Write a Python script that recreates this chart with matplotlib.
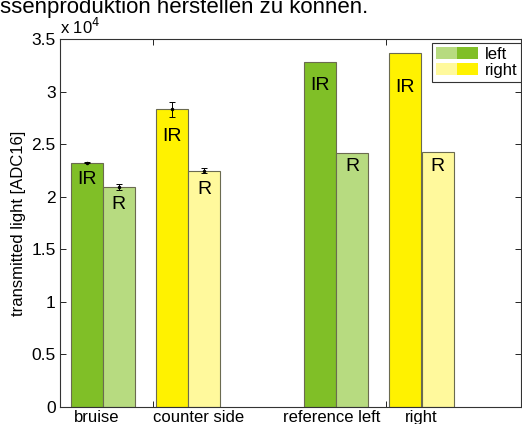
import numpy as np
import matplotlib
matplotlib.use("Agg")
import matplotlib.pyplot as plt
from matplotlib.patches import Patch
from matplotlib.legend_handler import HandlerTuple

plt.rcParams['font.family'] = ['Liberation Sans', 'DejaVu Sans']

# data (raw ADC16 counts)
groups = ["bruise", "counter side", "reference left", "right"]
ir_vals = [23240, 28300, 32830, 33650]
r_vals = [20930, 22480, 24150, 24300]
ir_err = [80, 750, 0, 0]
r_err = [250, 220, 0, 0]
bar_labels = ["IR", "R"]
legend_labels = ["left", "right"]

# bar positions along x (ticks sit at 1 and 2)
ir_pos = np.array([0.717, 1.082, 1.719, 2.082])
r_pos = np.array([0.854, 1.219, 1.856, 2.223])
label_pos = np.array([0.76, 1.197, 1.768, 2.15])
width = 0.137
# how far below the bar top the IR / R text sits (x 10^4)
ir_txt_drop = [0.16, 0.26, 0.23, 0.33]
r_txt_drop = [0.17, 0.18, 0.13, 0.14]

dark_green = "#80bf27"
light_green = "#b7db80"
yellow = "#fff200"
light_yellow = "#fff99c"
edge = "#6b6b50"

ir_cols = [dark_green, yellow, dark_green, yellow]
r_cols = [light_green, light_yellow, light_green, light_yellow]

fig = plt.figure(figsize=(5.22, 4.24), dpi=100)
ax = fig.add_axes([60/522, 1-407/424, 461/522, 368/424])

scale = 1e4
ir = np.array(ir_vals)/scale
r = np.array(r_vals)/scale

ax.bar(ir_pos, ir, width, color=ir_cols, edgecolor=edge, linewidth=0.8, zorder=2)
ax.bar(r_pos, r, width, color=r_cols, edgecolor=edge, linewidth=0.8, zorder=2)

for i in range(2):
    ax.errorbar(ir_pos[i], ir[i], yerr=ir_err[i]/scale, fmt='.', color='black',
                ms=3, capsize=2, elinewidth=0.7, capthick=0.7, zorder=3)
    ax.errorbar(r_pos[i], r[i], yerr=r_err[i]/scale, fmt='.', color='black',
                ms=3, capsize=2, elinewidth=0.7, capthick=0.7, zorder=3)

for i in range(4):
    ax.text(ir_pos[i], ir[i] - ir_txt_drop[i], bar_labels[0], ha='center', va='center', fontsize=14, zorder=4)
    ax.text(r_pos[i], r[i] - r_txt_drop[i], bar_labels[1], ha='center', va='center', fontsize=14, zorder=4)

ax.set_xlim(0.601, 2.58)
ax.set_ylim(0, 3.5)
ax.set_xticks([1, 2])
ax.set_xticklabels([])
ax.set_yticks(np.arange(0, 3.51, 0.5))
ax.set_yticklabels(["0", "0.5", "1", "1.5", "2", "2.5", "3", "3.5"])
ax.tick_params(direction='in', top=True, right=True, length=4, width=0.6,
               labelsize=12.5, pad=3)
for s in ax.spines.values():
    s.set_linewidth(0.8)
    s.set_color("#333333")

for i in range(4):
    ax.text(label_pos[i], -0.025, groups[i], ha='center', va='top', fontsize=12)

ax.set_ylabel("transmitted light [ADC16]", fontsize=12, labelpad=4)
ax.text(0.0, 1.005, r"x 10$^4$", transform=ax.transAxes, ha='left', va='bottom', fontsize=12)

handles = [(Patch(facecolor=light_green, edgecolor='none'), Patch(facecolor=dark_green, edgecolor='none')),
           (Patch(facecolor=light_yellow, edgecolor='none'), Patch(facecolor=yellow, edgecolor='none'))]
leg = ax.legend(handles, legend_labels, loc='upper left', fontsize=12,
                bbox_to_anchor=(432/522, 1-43/424), bbox_transform=fig.transFigure,
                handler_map={tuple: HandlerTuple(ndivide=None, pad=0)},
                fancybox=False, edgecolor='#333333', framealpha=1,
                handlelength=2.5, handleheight=0.75, handletextpad=0.4,
                labelspacing=0.05, borderpad=0.25, borderaxespad=0.0)
leg.get_frame().set_linewidth(0.8)

fig.text(0.0, 1-13/424, "ssenproduktion herstellen zu können.", fontsize=16,
         ha='left', va='baseline')

fig.savefig("out.png", dpi=100)
